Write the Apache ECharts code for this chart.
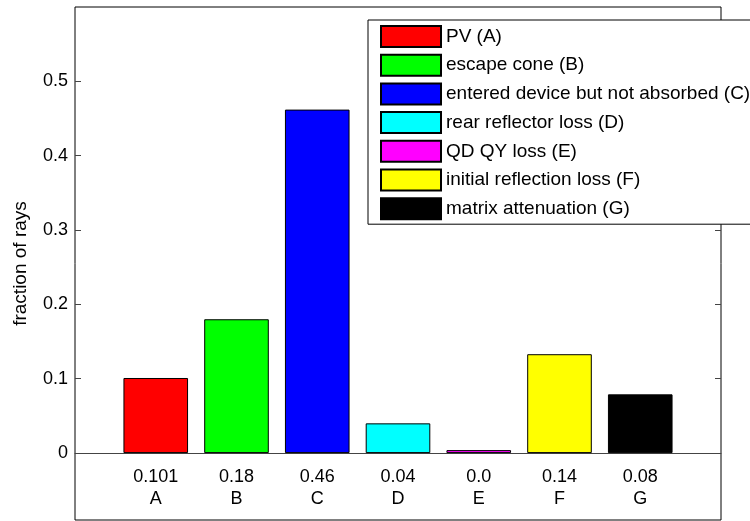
<!DOCTYPE html>
<html>
<head>
<meta charset="utf-8">
<script src="https://cdn.jsdelivr.net/npm/echarts@6/dist/echarts.min.js"></script>
<style>
  html, body { margin: 0; padding: 0; background: #fff; }
  #chart { width: 750px; height: 521px; }
</style>
</head>
<body>
<div id="chart"></div>
<script>
const categories = ['A', 'B', 'C', 'D', 'E', 'F', 'G']
const seriesNames = [
  'PV (A)',
  'escape cone (B)',
  'entered device but not absorbed (C)',
  'rear reflector loss (D)',
  'QD QY loss (E)',
  'initial reflection loss (F)',
  'matrix attenuation (G)'
]
const values = [0.101, 0.18, 0.462, 0.04, 0.004, 0.133, 0.079]
const valueLabels = ['0.101', '0.18', '0.46', '0.04', '0.0', '0.14', '0.08']
const barColors = ['#ff0000', '#00ff00', '#0000ff', '#00ffff', '#ff00ff', '#ffff00', '#000000']
const yTicks = [0, 0.1, 0.2, 0.3, 0.4, 0.5]

const font = 'Liberation Sans, Arial, sans-serif'
// padding slot on both ends so bars sit at 1..7 of 0..8
const xData = ['', ...categories, '']

const myChart = echarts.init(document.getElementById('chart'))
myChart.setOption({
  animation: false,
  textStyle: { fontFamily: font, color: '#000' },
  grid: {
    left: 75,
    right: 29,
    top: 7,
    bottom: 1,
    outerBoundsMode: 'none',
    containLabel: false,
    show: true,
    borderColor: '#000',
    borderWidth: 1,
    backgroundColor: '#fff'
  },
  legend: {
    orient: 'vertical',
    left: 368,
    top: 20,
    padding: [5, 12, 4, 12],
    itemWidth: 60,
    itemHeight: 21,
    itemGap: 5.7,
    icon: 'rect',
    selectedMode: false,
    borderColor: '#000',
    borderWidth: 1,
    backgroundColor: '#fff',
    textStyle: { fontSize: 19, color: '#000', fontFamily: font },
    data: seriesNames
  },
  xAxis: {
    type: 'category',
    data: xData,
    boundaryGap: false,
    axisLine: { onZero: true, lineStyle: { color: '#444', width: 1 } },
    axisTick: { show: false },
    axisLabel: {
      interval: 0,
      // labels stay at the grid bottom, pull them up under the zero line
      margin: -54,
      fontSize: 18,
      lineHeight: 22,
      color: '#000',
      formatter: (v, i) => (v === '' ? '' : valueLabels[i - 1] + '\n' + v)
    },
    splitLine: { show: false }
  },
  yAxis: [
    {
      type: 'value',
      min: -0.09,
      max: 0.6,
      name: 'fraction of rays',
      nameLocation: 'middle',
      nameGap: 45,
      nameTextStyle: { fontSize: 19, color: '#000' },
      axisLine: { show: false },
      axisTick: { show: true, inside: true, length: 6, customValues: yTicks, lineStyle: { color: '#444' } },
      axisLabel: { fontSize: 18, margin: 7, color: '#000', customValues: yTicks, formatter: v => String(v) },
      splitLine: { show: false }
    },
    {
      type: 'value',
      position: 'right',
      min: -0.09,
      max: 0.6,
      axisLine: { show: false },
      axisTick: { show: true, inside: true, length: 6, customValues: yTicks, lineStyle: { color: '#444' } },
      axisLabel: { show: false },
      splitLine: { show: false }
    }
  ],
  series: categories.map((c, i) => ({
    name: seriesNames[i],
    type: 'bar',
    stack: 'all',
    barWidth: '80%',
    itemStyle: { color: barColors[i], borderColor: '#000', borderWidth: 1 },
    data: xData.map((_, j) => (j === i + 1 ? values[i] : null))
  }))
})
</script>
</body>
</html>
